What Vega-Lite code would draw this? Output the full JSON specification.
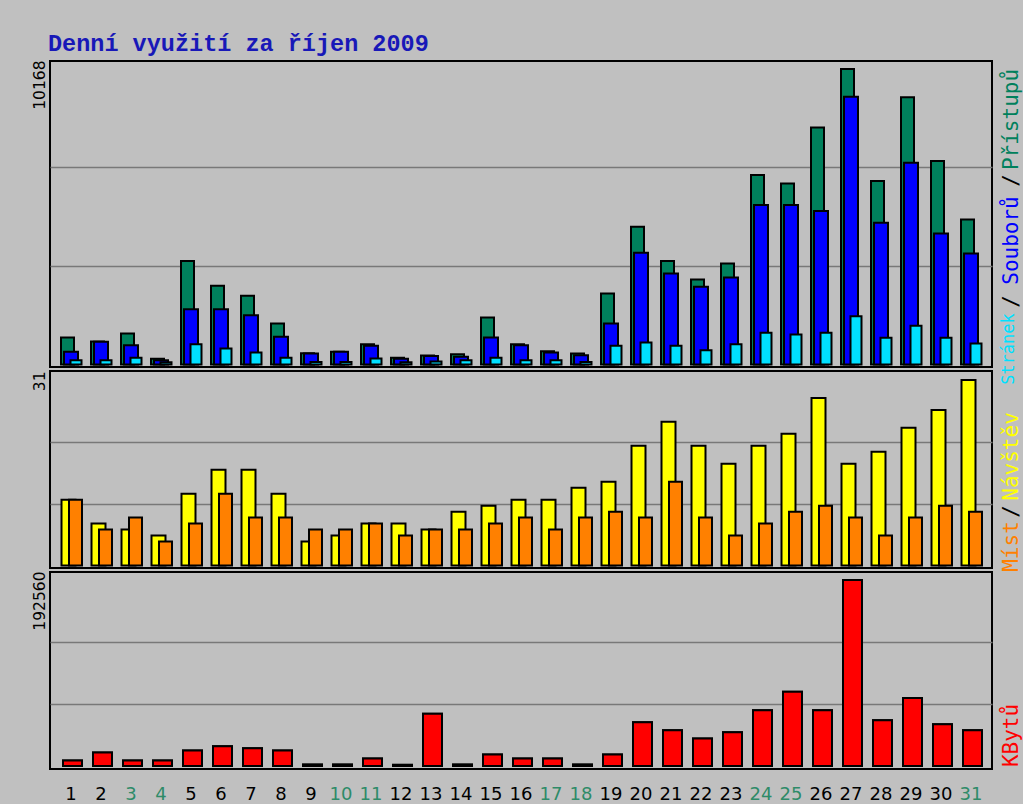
{
  "$schema": "https://vega.github.io/schema/vega-lite/v6.json",
  "background": "#C0C0C0",
  "padding": {"left": 31, "top": 32, "right": 4, "bottom": 34},
  "bounds": "flush",
  "title": {"text": "Denní využití za říjen 2009", "anchor": "start", "font": "Liberation Mono", "fontSize": 23.5, "fontWeight": "bold", "color": "#1818B8", "dx": 17, "offset": 3},
  "datasets": {
    "daily": [
      {"day": 1, "hits": 930, "files": 436, "pages": 149, "visits": 11, "sites": 11, "kbytes": 5571},
      {"day": 2, "hits": 790, "files": 780, "pages": 149, "visits": 7, "sites": 6, "kbytes": 13928},
      {"day": 3, "hits": 1067, "files": 666, "pages": 230, "visits": 6, "sites": 8, "kbytes": 5571},
      {"day": 4, "hits": 200, "files": 150, "pages": 80, "visits": 5, "sites": 4, "kbytes": 5571},
      {"day": 5, "hits": 3558, "files": 1905, "pages": 700, "visits": 12, "sites": 7, "kbytes": 16017},
      {"day": 6, "hits": 2708, "files": 1905, "pages": 551, "visits": 16, "sites": 12, "kbytes": 20544},
      {"day": 7, "hits": 2364, "files": 1698, "pages": 413, "visits": 16, "sites": 8, "kbytes": 18455},
      {"day": 8, "hits": 1412, "files": 952, "pages": 230, "visits": 12, "sites": 8, "kbytes": 16017},
      {"day": 9, "hits": 390, "files": 379, "pages": 90, "visits": 4, "sites": 6, "kbytes": 1500},
      {"day": 10, "hits": 440, "files": 436, "pages": 90, "visits": 5, "sites": 6, "kbytes": 1500},
      {"day": 11, "hits": 700, "files": 643, "pages": 207, "visits": 7, "sites": 7, "kbytes": 7660},
      {"day": 12, "hits": 230, "files": 200, "pages": 80, "visits": 7, "sites": 5, "kbytes": 1200},
      {"day": 13, "hits": 310, "files": 290, "pages": 100, "visits": 6, "sites": 6, "kbytes": 53971},
      {"day": 14, "hits": 356, "files": 264, "pages": 149, "visits": 9, "sites": 6, "kbytes": 1500},
      {"day": 15, "hits": 1618, "files": 930, "pages": 230, "visits": 10, "sites": 7, "kbytes": 11839},
      {"day": 16, "hits": 700, "files": 666, "pages": 149, "visits": 11, "sites": 8, "kbytes": 7660},
      {"day": 17, "hits": 459, "files": 413, "pages": 149, "visits": 11, "sites": 6, "kbytes": 7660},
      {"day": 18, "hits": 379, "files": 321, "pages": 90, "visits": 13, "sites": 8, "kbytes": 1500},
      {"day": 19, "hits": 2444, "files": 1412, "pages": 643, "visits": 14, "sites": 9, "kbytes": 11839},
      {"day": 20, "hits": 4740, "files": 3844, "pages": 757, "visits": 20, "sites": 8, "kbytes": 45266},
      {"day": 21, "hits": 3558, "files": 3133, "pages": 643, "visits": 24, "sites": 14, "kbytes": 36909},
      {"day": 22, "hits": 2926, "files": 2674, "pages": 493, "visits": 20, "sites": 8, "kbytes": 28552},
      {"day": 23, "hits": 3477, "files": 2995, "pages": 700, "visits": 17, "sites": 5, "kbytes": 34820},
      {"day": 24, "hits": 6518, "files": 5486, "pages": 1090, "visits": 20, "sites": 7, "kbytes": 57801},
      {"day": 25, "hits": 6231, "files": 5486, "pages": 1033, "visits": 22, "sites": 9, "kbytes": 76952},
      {"day": 26, "hits": 8159, "files": 5279, "pages": 1090, "visits": 28, "sites": 10, "kbytes": 57801},
      {"day": 27, "hits": 10168, "files": 9215, "pages": 1664, "visits": 17, "sites": 8, "kbytes": 192560},
      {"day": 28, "hits": 6312, "files": 4877, "pages": 918, "visits": 19, "sites": 5, "kbytes": 47355},
      {"day": 29, "hits": 9192, "files": 6943, "pages": 1331, "visits": 23, "sites": 8, "kbytes": 70336},
      {"day": 30, "hits": 7000, "files": 4510, "pages": 918, "visits": 26, "sites": 10, "kbytes": 43177},
      {"day": 31, "hits": 4992, "files": 3821, "pages": 723, "visits": 31, "sites": 9, "kbytes": 36909}
    ]
  },
  "data": {"name": "daily"},
  "spacing": 4,
  "config": {
    "view": {"stroke": "#000000", "strokeWidth": 2, "fill": "#C0C0C0"},
    "axis": {"ticks": false, "domain": false, "title": null, "labelColor": "#000000"}
  },
  "vconcat": [
    {
      "width": 942,
      "height": 306,
      "encoding": {
        "x": {"field": "day", "type": "ordinal", "scale": {"paddingInner": 0, "paddingOuter": 0.2}, "axis": null}
      },
      "layer": [
        {
          "mark": {"type": "bar", "width": 13, "xOffset": -3.5, "fill": "#00805C", "stroke": "#000000", "strokeWidth": 2},
          "encoding": {
            "y": {"field": "hits", "type": "quantitative", "scale": {"domain": [-86, 10443], "nice": false, "zero": false},
              "axis": {"orient": "left", "values": [3389.33, 6778.67, 10168], "format": "d", "labelExpr": "datum.value >= 10168 ? datum.label : ''",
                "grid": true, "gridColor": {"condition": {"test": "datum.value >= 10168", "value": "transparent"}, "value": "#787878"}, "gridWidth": 1.5,
                "labelAngle": 270, "labelAlign": "right", "labelBaseline": "bottom", "labelOffset": -9, "labelPadding": 3, "labelFont": "DejaVu Sans", "labelFontSize": 15.5}},
            "y2": {"datum": 0}
          }
        },
        {
          "mark": {"type": "bar", "width": 14, "xOffset": 0, "fill": "#0000FF", "stroke": "#000000", "strokeWidth": 2},
          "encoding": {
            "y": {"field": "files", "type": "quantitative", "scale": {"domain": [-86, 10443], "nice": false, "zero": false},
              "axis": {"orient": "right", "values": [550, 2185, 4284, 6349, 8448],
                "labelExpr": "datum.value < 1000 ? 'Stránek' : datum.value < 3000 ? '/' : datum.value < 5000 ? 'Souborů' : datum.value < 7000 ? '/' : 'Přístupů'",
                "labelColor": {"condition": [{"test": "datum.value < 1000", "value": "#00E0FF"}, {"test": "datum.value < 3000", "value": "#000000"}, {"test": "datum.value < 5000", "value": "#0000FF"}, {"test": "datum.value < 7000", "value": "#000000"}], "value": "#00805C"},
                "labelFontSize": {"condition": {"test": "datum.value < 1000", "value": 17}, "value": 21},
                "grid": false, "labelAngle": 270, "labelAlign": "center", "labelBaseline": "top", "labelPadding": 8, "labelOverlap": false, "labelBound": false, "labelFont": "DejaVu Sans Mono"}},
            "y2": {"datum": 0}
          }
        },
        {
          "mark": {"type": "bar", "width": 11, "xOffset": 5, "fill": "#00E0FF", "stroke": "#000000", "strokeWidth": 2},
          "encoding": {
            "y": {"field": "pages", "type": "quantitative", "scale": {"domain": [-86, 10443], "nice": false, "zero": false}, "axis": null},
            "y2": {"datum": 0}
          }
        }
      ],
      "resolve": {"axis": {"y": "independent"}}
    },
    {
      "width": 942,
      "height": 197,
      "encoding": {
        "x": {"field": "day", "type": "ordinal", "scale": {"paddingInner": 0, "paddingOuter": 0.2}, "axis": null}
      },
      "layer": [
        {
          "mark": {"type": "bar", "width": 14, "xOffset": -2.5, "fill": "#FFFF00", "stroke": "#000000", "strokeWidth": 2},
          "encoding": {
            "y": {"field": "visits", "type": "quantitative", "scale": {"domain": [-0.418, 32.5], "nice": false, "zero": false},
              "axis": {"orient": "left", "values": [10.3333, 20.6667, 31], "format": "d", "labelExpr": "datum.value >= 31 ? datum.label : ''",
                "grid": true, "gridColor": {"condition": {"test": "datum.value >= 31", "value": "transparent"}, "value": "#787878"}, "gridWidth": 1.5,
                "labelAngle": 270, "labelAlign": "right", "labelBaseline": "bottom", "labelOffset": -9, "labelPadding": 3, "labelFont": "DejaVu Sans", "labelFontSize": 15.5}},
            "y2": {"datum": 0}
          }
        },
        {
          "mark": {"type": "bar", "width": 13, "xOffset": 4.5, "fill": "#FF8000", "stroke": "#000000", "strokeWidth": 2},
          "encoding": {
            "y": {"field": "sites", "type": "quantitative", "scale": {"domain": [-0.418, 32.5], "nice": false, "zero": false},
              "axis": {"orient": "right", "values": [3.26, 9.1, 18.3],
                "labelExpr": "datum.value < 6 ? 'Míst' : datum.value < 12 ? '/' : 'Návštěv'",
                "labelColor": {"condition": [{"test": "datum.value < 6", "value": "#FF8000"}, {"test": "datum.value < 12", "value": "#000000"}], "value": "#FFFF00"},
                "grid": false, "labelAngle": 270, "labelAlign": "center", "labelBaseline": "top", "labelPadding": 8, "labelOverlap": false, "labelBound": false, "labelFont": "DejaVu Sans Mono", "labelFontSize": 21}},
            "y2": {"datum": 0}
          }
        }
      ],
      "resolve": {"axis": {"y": "independent"}}
    },
    {
      "width": 942,
      "height": 197,
      "encoding": {
        "x": {"field": "day", "type": "ordinal", "scale": {"paddingInner": 0, "paddingOuter": 0.2},
          "axis": {"orient": "bottom", "labelAngle": 0, "labelFont": "DejaVu Sans", "labelFontSize": 18, "labelPadding": 16,
            "labelColor": {"condition": {"test": "day(datetime(2009, 9, datum.value)) == 0 || day(datetime(2009, 9, datum.value)) == 6", "value": "#2E8B68"}, "value": "#000000"}}}
      },
      "layer": [
        {
          "mark": {"type": "bar", "width": 19, "xOffset": 1.5, "fill": "#FF0000", "stroke": "#000000", "strokeWidth": 2},
          "encoding": {
            "y": {"field": "kbytes", "type": "quantitative", "scale": {"domain": [-3106, 200842], "nice": false, "zero": false},
              "axis": {"orient": "left", "values": [64186.67, 128373.33, 192560], "format": "d", "labelExpr": "datum.value >= 192560 ? datum.label : ''",
                "grid": true, "gridColor": {"condition": {"test": "datum.value >= 192560", "value": "transparent"}, "value": "#787878"}, "gridWidth": 1.5,
                "labelAngle": 270, "labelAlign": "right", "labelBaseline": "bottom", "labelOffset": -9, "labelPadding": 3, "labelFont": "DejaVu Sans", "labelFontSize": 15.5}},
            "y2": {"datum": 0}
          }
        },
        {
          "mark": {"type": "bar", "width": 19, "xOffset": 1.5, "fill": "#FF0000", "stroke": "#000000", "strokeWidth": 2},
          "encoding": {
            "y": {"field": "kbytes", "type": "quantitative", "scale": {"domain": [-3106, 200842], "nice": false, "zero": false},
              "axis": {"orient": "right", "values": [32094], "labelExpr": "'KBytů'", "labelColor": "#FF0000",
                "grid": false, "labelAngle": 270, "labelAlign": "center", "labelBaseline": "top", "labelPadding": 8, "labelOverlap": false, "labelBound": false, "labelFont": "DejaVu Sans Mono", "labelFontSize": 21}},
            "y2": {"datum": 0}
          }
        }
      ],
      "resolve": {"axis": {"y": "independent"}}
    }
  ]
}
